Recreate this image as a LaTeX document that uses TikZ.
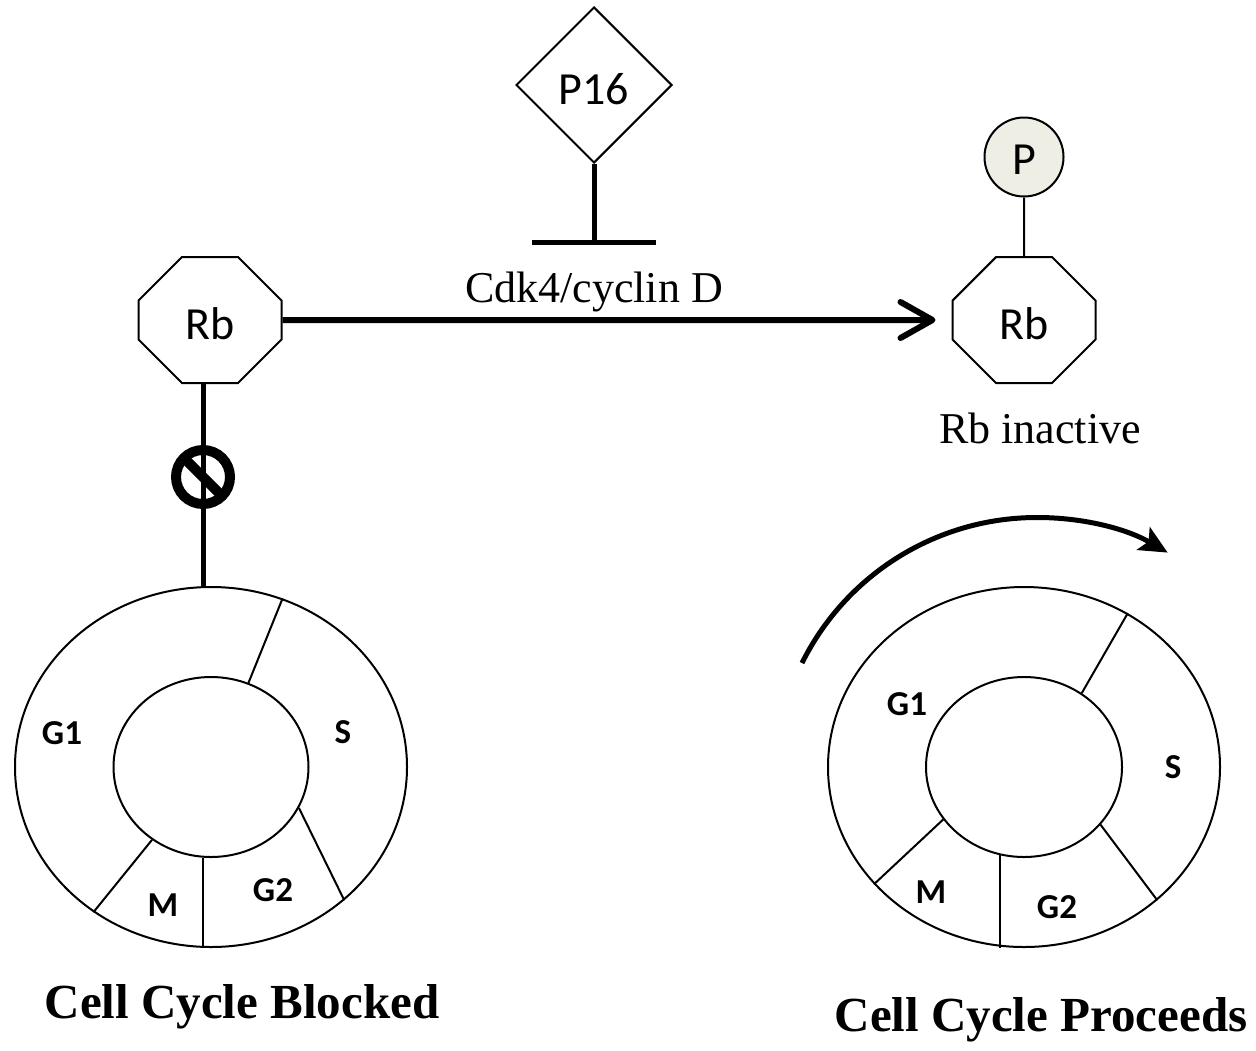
\documentclass[tikz,border=0pt]{standalone}
\usepackage{fontspec}
\setmainfont{Liberation Serif}
\newfontfamily\calfont{Carlito}
\usetikzlibrary{shapes.geometric,shapes.misc,arrows.meta}
\definecolor{pgrey}{RGB}{238,238,229}

\begin{document}
\begin{tikzpicture}[x=0.5pt,y=-0.5pt,
        gene/.style={draw,line width=1pt,inner sep=0pt,text height=19pt,text depth=0pt,font=\calfont\fontsize{23}{27}\selectfont},
        octo/.style={gene,chamfered rectangle,chamfered rectangle sep=18.5pt,minimum width=71.5pt,minimum height=63pt},
        ring/.style={draw,line width=1pt,ellipse,inner sep=0pt},
        phase/.style={font=\calfont\bfseries\fontsize{17.5}{21}\selectfont},
        title/.style={anchor=base,font=\bfseries\fontsize{24.5}{29}\selectfont},
        note/.style={anchor=base,font=\fontsize{22}{26}\selectfont}]
                \useasboundingbox (0,0) rectangle (1256,1050);
                \node[gene,diamond,aspect=1,minimum size=78pt] (p16) at (594,85) {P16};
                \coordinate (bar) at (594,242);
                \draw[line width=2.5pt] (p16.south)--(bar);
                \draw[line width=2.5pt] ([xshift=-31pt]bar)--([xshift=31pt]bar);
                \node[octo] (rbL) at (210,320) {Rb};
                \node[octo] (rbR) at (1024,320) {Rb};
                \node[gene,circle,fill=pgrey,minimum size=39.5pt,text height=17pt] (pp) at (1024,157) {P};
                \draw[line width=1pt] (pp)--(rbR);
                \draw[line width=3pt,-{Straight Barb[length=16pt,width=18pt,round]},shorten >=8pt] (rbL)--(rbR);
                \node[note] (cdk) at (594,302) {Cdk4/cyclin D};
                \node[note] (inact) at (1040,443) {Rb inactive};
                \node[ring,minimum width=196pt,minimum height=180pt] (outL) at (211,767) {};
                \node[ring,minimum width=97.5pt,minimum height=90pt] (inL) at (211,767) {};
                \node[ring,minimum width=196pt,minimum height=180pt] (outR) at (1024,767) {};
                \node[ring,minimum width=98pt,minimum height=90pt] (inR) at (1024,767) {};
                \node[draw,circle,line width=5pt,minimum size=27pt,inner sep=0pt,outer sep=0pt] (blk) at (203,477) {};
                \draw[line width=5pt] (blk.135)--(blk.-45);
                \draw[line width=2.5pt] (rbL.south -| blk)--(outL.north -| blk);
                \draw[line width=1pt] (outL.67)--(inL.66);
                \draw[line width=1pt] (inL.-25)--(outL.-45);
                \draw[line width=1pt] (inL.-95)--(inL.-95 |- outL.south);
                \draw[line width=1pt] (inL.-129)--(outL.-129);
                \draw[line width=1pt] (outR.56)--(inR.52);
                \draw[line width=1pt] (inR.-37)--(outR.-45);
                \draw[line width=1pt] (inR.-105)--(inR.-105 |- outR.south);
                \draw[line width=1pt] (inR.-147)--(outR.-142);
                \node[phase] (g1L) at (62,733) {G1};
                \node[phase] (sL) at (343,732) {S};
                \node[phase] (g2L) at (273,890) {G2};
                \node[phase] (mL) at (163,905) {M};
                \node[phase] (g1R) at (907,704) {G1};
                \node[phase] (sR) at (1173,767) {S};
                \node[phase] (g2R) at (1057,907) {G2};
                \node[phase] (mR) at (931,892) {M};
                \draw[line width=2.5pt,-{Stealth[length=14pt,width=13pt,inset=3pt]}] (802,663) arc[start angle=-153.6,end angle=-60,radius=262];
                \node[title] (blocked) at (242,1018) {Cell Cycle Blocked};
                \node[title] (proceeds) at (1041,1031) {Cell Cycle Proceeds};
\end{tikzpicture}
\end{document}
